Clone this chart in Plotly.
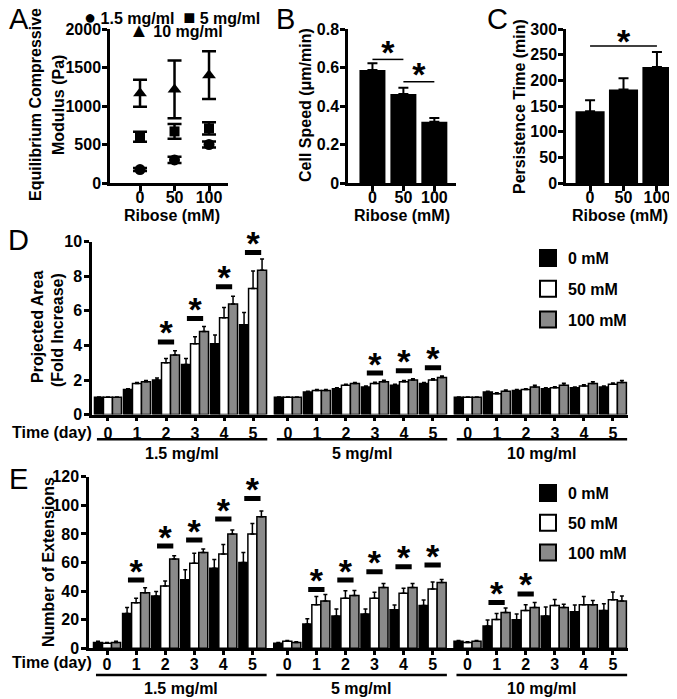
import plotly.graph_objects as go

W, H = 677, 699
FONT = "Liberation Sans, Arial, sans-serif"
PAGE_OFFSET = 8  # the page body margin shifts the figure by this many px

# ---------------- data ----------------
# Panel A: equilibrium compressive modulus (Pa)
ribose = ['0', '50', '100']
mod_15 = [175, 300, 500]
mod_15_err = [20, 40, 40]
mod_5 = [600, 670, 710]
mod_5_err = [65, 95, 80]
mod_10 = [1165, 1215, 1400]
mod_10_err = [175, 375, 310]

# Panel B: cell speed (um/min)
speed = [0.587, 0.462, 0.318]
speed_err = [0.035, 0.033, 0.02]
sigB_from = [0, 1]
sigB_to = [1, 2]
sigB_level = [0.642, 0.526]

# Panel C: persistence time (min)
persist = [140, 182, 226]
persist_err = [21, 22, 29]
sigC_from = [0]
sigC_to = [2]
sigC_level = [267]

# Panels D/E: 3 collagen groups x 6 days
days = ['0', '1', '2', '3', '4', '5']
collagen = ['1.5 mg/ml', '5 mg/ml', '10 mg/ml']
ribose_names = ['0 mM', '50 mM', '100 mM']

# Panel D: projected area (fold increase)
area_0mM = [1.0, 1.45, 2.0, 2.9, 4.1, 5.2,
            1.0, 1.3, 1.5, 1.6, 1.7, 1.8,
            1.0, 1.3, 1.4, 1.5, 1.55, 1.6]
area_50mM = [1.0, 1.8, 3.0, 4.1, 5.6, 7.3,
             1.0, 1.4, 1.7, 1.8, 1.9, 2.0,
             1.0, 1.2, 1.45, 1.55, 1.65, 1.75]
area_100mM = [1.0, 1.9, 3.45, 4.8, 6.4, 8.35,
              1.0, 1.4, 1.8, 1.9, 2.0, 2.15,
              1.0, 1.35, 1.6, 1.7, 1.8, 1.85]
area_0mM_err = [0.02, 0.05, 0.12, 0.35, 0.5, 0.7,
                0.02, 0.05, 0.05, 0.06, 0.06, 0.06,
                0.02, 0.05, 0.05, 0.05, 0.05, 0.05]
area_50mM_err = [0.02, 0.05, 0.25, 0.4, 0.6, 1.0,
                 0.02, 0.05, 0.05, 0.07, 0.07, 0.08,
                 0.02, 0.06, 0.05, 0.06, 0.07, 0.08]
area_100mM_err = [0.02, 0.07, 0.25, 0.3, 0.45, 0.65,
                  0.02, 0.05, 0.06, 0.08, 0.08, 0.08,
                  0.02, 0.08, 0.1, 0.12, 0.1, 0.12]
sigD_group = [0, 0, 0, 0, 1, 1, 1]
sigD_day = [2, 3, 4, 5, 3, 4, 5]
sigD_level = [4.2, 5.56, 7.4, 9.38, 2.4, 2.54, 2.71]

# Panel E: number of extensions
ext_0mM = [4, 24.4, 36.5, 48, 56, 60,
           3.5, 17, 22.5, 24, 27, 30,
           5, 15.6, 20, 22.5, 25.5, 26.5]
ext_50mM = [3.5, 31.9, 43.5, 59.5, 66, 80,
            5, 30.5, 35, 35, 38.5, 41.5,
            4, 20.2, 26.5, 30, 30.5, 34]
ext_100mM = [4, 38.9, 62.5, 67, 80, 92,
             4, 33, 37, 42.5, 42.5, 46,
             5, 25, 28.5, 28.5, 30.5, 33]
ext_0mM_err = [1, 4.2, 3.2, 7, 6.1, 7,
               0.5, 3.7, 4.9, 3.5, 3.2, 3.8,
               0.5, 4.2, 4, 6.4, 4.7, 4.7]
ext_50mM_err = [0.5, 3.1, 3.5, 7, 6.5, 7.2,
                0.5, 5.7, 5.3, 4.2, 3.5, 4.8,
                0.5, 4.2, 4, 4.2, 5.7, 5.4]
ext_100mM_err = [1, 3.5, 2.3, 2.4, 2.8, 4,
                 0.5, 4.7, 3.5, 2.8, 2.8, 2.1,
                 0.5, 3.1, 3.5, 2.3, 3, 3.5]
sigE_group = [0, 0, 0, 0, 0, 1, 1, 1, 1, 1, 2, 2]
sigE_day = [1, 2, 3, 4, 5, 1, 2, 3, 4, 5, 1, 2]
sigE_level = [47.7, 71.5, 75.7, 90.4, 104.8,
              41.2, 47.7, 53.5, 57, 58.2,
              32.1, 38]

# ---------------- helpers ----------------
def fx(px):
    return (px - PAGE_OFFSET) / W


def fy(py):
    return 1 - (py - PAGE_OFFSET) / H


GROUP_STEP = 6.2
positions = [g * GROUP_STEP + d for g in range(len(collagen)) for d in range(len(days))]
tick_text = days * len(collagen)
ribose_pos = list(range(len(ribose)))
AST_SIZE = 34

fig = go.Figure()

# ---------- Panel A ----------
for vals, errs, sym, size, name in [
    (mod_15, mod_15_err, 'circle', 11, '1.5 mg/ml'),
    (mod_5, mod_5_err, 'square', 10, '5 mg/ml'),
    (mod_10, mod_10_err, 'triangle-up', 12, '10 mg/ml'),
]:
    fig.add_trace(go.Scatter(
        x=ribose_pos, y=vals, mode='markers', name=name, showlegend=False,
        marker=dict(symbol=sym, size=size, color='black'),
        error_y=dict(type='data', array=errs, color='black', thickness=2.5, width=7),
        cliponaxis=False, xaxis='x', yaxis='y'))

# ---------- Panel B ----------
fig.add_trace(go.Bar(x=ribose_pos, y=speed, width=0.84, marker=dict(color='black', line=dict(width=0)),
                     error_y=dict(type='data', symmetric=False, array=speed_err,
                                  arrayminus=[0] * 3, color='black', thickness=2, width=5),
                     showlegend=False, xaxis='x2', yaxis='y2'))
# ---------- Panel C ----------
fig.add_trace(go.Bar(x=ribose_pos, y=persist, width=0.87, marker=dict(color='black', line=dict(width=0)),
                     error_y=dict(type='data', symmetric=False, array=persist_err,
                                  arrayminus=[0] * 3, color='black', thickness=2, width=5),
                     showlegend=False, xaxis='x3', yaxis='y3'))


def sig_lines(froms, tos, levels, xa, ya, ast_off):
    xs, ys, ax, ay = [], [], [], []
    for f, t, lv in zip(froms, tos, levels):
        xs += [ribose_pos[f], ribose_pos[t], None]
        ys += [lv, lv, None]
        ax.append((ribose_pos[f] + ribose_pos[t]) / 2)
        ay.append(lv + ast_off)
    fig.add_trace(go.Scatter(x=xs, y=ys, mode='lines', line=dict(color='black', width=1.5),
                             showlegend=False, cliponaxis=False, xaxis=xa, yaxis=ya))
    fig.add_trace(go.Scatter(x=ax, y=ay, mode='text', text=['*'] * len(ax),
                             textfont=dict(family=FONT, size=AST_SIZE, color='black', weight='bold'),
                             showlegend=False, cliponaxis=False, xaxis=xa, yaxis=ya))


sig_lines(sigB_from, sigB_to, sigB_level, 'x2', 'y2', 4 * 0.8 / 154)
sig_lines(sigC_from, sigC_to, sigC_level, 'x3', 'y3', 1 * 300 / 154)

# ---------- Panels D & E ----------
fills = ['black', 'white', '#8a8a8a']
BW = 0.31


def grouped(series, errs, xa, ya):
    for k, (vals, err) in enumerate(zip(series, errs)):
        fig.add_trace(go.Bar(
            x=positions, y=vals, offset=-1.5 * BW + k * BW, width=BW,
            name=ribose_names[k], showlegend=False,
            marker=dict(color=fills[k], line=dict(color='black', width=1.5)),
            error_y=dict(type='data', symmetric=False, array=err,
                         arrayminus=[0] * len(err), color='black', thickness=1.5, width=2),
            xaxis=xa, yaxis=ya))


def sig_dashes(groups, dayl, levels, xa, ya, ast_off):
    xs, ys, ax, ay = [], [], [], []
    for g, d, lv in zip(groups, dayl, levels):
        p = g * GROUP_STEP + d
        xs += [p - 0.28, p + 0.28, None]
        ys += [lv, lv, None]
        ax.append(p)
        ay.append(lv + ast_off)
    fig.add_trace(go.Scatter(x=xs, y=ys, mode='lines', line=dict(color='black', width=5),
                             showlegend=False, cliponaxis=False, xaxis=xa, yaxis=ya))
    fig.add_trace(go.Scatter(x=ax, y=ay, mode='text', text=['*'] * len(ax),
                             textfont=dict(family=FONT, size=AST_SIZE, color='black', weight='bold'),
                             showlegend=False, cliponaxis=False, xaxis=xa, yaxis=ya))


grouped([area_0mM, area_50mM, area_100mM],
        [area_0mM_err, area_50mM_err, area_100mM_err], 'x4', 'y4')
sig_dashes(sigD_group, sigD_day, sigD_level, 'x4', 'y4', 6 * 10 / 172.9)

grouped([ext_0mM, ext_50mM, ext_100mM],
        [ext_0mM_err, ext_50mM_err, ext_100mM_err], 'x5', 'y5')
sig_dashes(sigE_group, sigE_day, sigE_level, 'x5', 'y5', 6 * 120 / 171.6)

# legend proxies
for lg, xa, ya in [('legend', 'x4', 'y4'), ('legend2', 'x5', 'y5')]:
    for k in range(3):
        fig.add_trace(go.Scatter(
            x=[None], y=[None], mode='markers', name=ribose_names[k],
            legend=lg, legendgroup=lg + str(k),
            marker=dict(symbol='square', size=16, color=fills[k],
                        line=dict(color='black', width=2)),
            xaxis=xa, yaxis=ya))

# ---------------- layout ----------------
tickfont = dict(family=FONT, size=16, color='black', weight='bold')
base = dict(showline=True, linecolor='black', linewidth=2.5, ticks='outside',
            ticklen=5, tickwidth=2.5, tickcolor='black', showgrid=False,
            zeroline=False, tickfont=tickfont, fixedrange=True, automargin=False)

layout = dict(
    template='none',
    width=W, height=H, margin=dict(l=0, r=0, t=0, b=0, pad=0, autoexpand=False),
    paper_bgcolor='white', plot_bgcolor='rgba(0,0,0,0)',
    barmode='overlay', hovermode=False,
    font=dict(family=FONT, color='black'),
)

ydomABC = [fy(183), fy(29)]
layout['xaxis'] = dict(base, domain=[fx(110), fx(228)], range=[-0.87, 2.55],
                       tickvals=ribose_pos, ticktext=ribose, ticklabelstandoff=-7, anchor='y')
layout['yaxis'] = dict(base, domain=ydomABC, range=[0, 2000], ticklabelstandoff=-2,
                       tickvals=[0, 500, 1000, 1500, 2000], anchor='x')
layout['xaxis2'] = dict(base, domain=[fx(348), fx(456)], range=[-0.79, 2.7],
                        tickvals=ribose_pos, ticktext=ribose, ticklabelstandoff=-7, anchor='y2')
layout['yaxis2'] = dict(base, domain=ydomABC, range=[0, 0.8], ticklabelstandoff=-2,
                        tickvals=[0, 0.2, 0.4, 0.6, 0.8], ticktext=['0', '0.2', '0.4', '0.6', '0.8'],
                        anchor='x2')
layout['xaxis3'] = dict(base, domain=[fx(566), fx(675)], range=[-0.72, 2.54],
                        tickvals=ribose_pos, ticktext=ribose, ticklabelstandoff=-7, anchor='y3')
layout['yaxis3'] = dict(base, domain=ydomABC, range=[0, 300], ticklabelstandoff=-2,
                        tickvals=[0, 50, 100, 150, 200, 250, 300], anchor='x3')
layout['xaxis4'] = dict(base, domain=[fx(92), fx(628)], range=[-0.55, 17.92],
                        tickvals=positions, ticktext=tick_text, ticklen=4,
                        ticklabelstandoff=-2, anchor='y4')
layout['yaxis4'] = dict(base, domain=[fy(414.6), fy(241.7)], range=[0, 10], ticklabelstandoff=-1,
                        tickvals=[0, 2, 4, 6, 8, 10], anchor='x4')
layout['xaxis5'] = dict(base, domain=[fx(89), fx(628)], range=[-0.62, 17.92],
                        tickvals=positions, ticktext=tick_text, ticklen=4,
                        ticklabelstandoff=-4, anchor='y5')
layout['yaxis5'] = dict(base, domain=[fy(648.3), fy(476.7)], range=[0, 120], ticklabelstandoff=-1,
                        tickvals=[0, 20, 40, 60, 80, 100, 120], anchor='x5')

legfont = dict(family=FONT, size=16, color='black', weight='bold')
layout['legend'] = dict(x=fx(528), y=fy(241), xanchor='left', yanchor='top',
                        font=legfont, tracegroupgap=7, bgcolor='rgba(0,0,0,0)')
layout['legend2'] = dict(x=fx(528), y=fy(476), xanchor='left', yanchor='top',
                         font=legfont, tracegroupgap=6, bgcolor='rgba(0,0,0,0)')

fig.update_layout(**layout)

# ---------------- annotations ----------------
bold16 = dict(family=FONT, size=16, color='black', weight='bold')
letter = dict(family=FONT, size=29, color='black')


def ann(text, x, y, font, angle=0, xanchor='center'):
    fig.add_annotation(text=text, x=fx(x), y=fy(y), xref='paper', yref='paper',
                       showarrow=False, font=font, textangle=angle,
                       xanchor=xanchor, yanchor='middle')


for t, x, y in [('A', 19, 19), ('B', 285, 19), ('C', 497, 19), ('D', 19, 240), ('E', 19, 479)]:
    ann(t, x, y, letter)

sym = '<span style="font-size:20px">{}</span>'
ann(sym.format('●') + ' 1.5 mg/ml  ' + sym.format('■') + ' 5 mg/ml', 82, 17, bold16, xanchor='left')
ann(sym.format('▲') + ' 10 mg/ml', 127, 30, bold16, xanchor='left')

ann('Equilibrium Compressive', 35, 105, bold16, -90)
ann('Modulus (Pa)', 58, 105, bold16, -90)
ann('Cell Speed (μm/min)', 305, 105, bold16, -90)
ann('Persistence Time (min)', 519, 106, bold16, -90)
for x in (172, 402, 620):
    ann('Ribose (mM)', x, 215, bold16)

ann('Projected Area', 37, 327, bold16, -90)
ann('(Fold Increase)', 57, 330, bold16, -90)
ann('Number of Extensions', 48, 562, bold16, -90)

for ytime, yline, ylab, xa in [(432, 439.3, 453, 'x4'), (662, 675, 688, 'x5')]:
    ann('Time (day)', 52, ytime, bold16)
    for g, name in enumerate(collagen):
        start = g * GROUP_STEP
        fig.add_shape(type='line', xref=xa, yref='paper', x0=start - 0.38, x1=start + 5.49,
                      y0=fy(yline), y1=fy(yline), line=dict(color='black', width=2.5))
        fig.add_annotation(text=name, x=start + 2.55, y=fy(ylab), xref=xa, yref='paper',
                           showarrow=False, font=bold16, xanchor='center', yanchor='middle')

fig.write_html("out.html")
